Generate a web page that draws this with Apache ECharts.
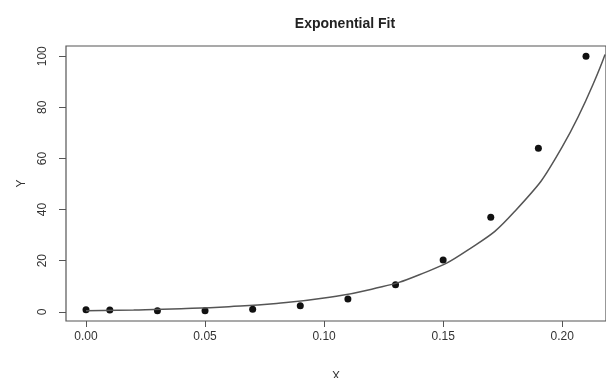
<!DOCTYPE html>
<html>
<head>
<meta charset="utf-8">
<script src="https://cdn.jsdelivr.net/npm/echarts@6/dist/echarts.min.js"></script>
<style>html,body{margin:0;padding:0;background:#fff;}#c{width:606px;height:378px;}</style>
</head>
<body>
<div id="c"></div>
<script>
// Observed data points
const xData = [0, 0.01, 0.03, 0.05, 0.07, 0.09, 0.11, 0.13, 0.15, 0.17, 0.19, 0.21];
const yData = [0.8, 0.7, 0.4, 0.4, 1.0, 2.4, 5.0, 10.6, 20.3, 37, 64, 100];
// Fitted curve
const curveX = [0, 0.02, 0.04, 0.06, 0.08, 0.10, 0.12, 0.14, 0.16, 0.18, 0.20, 0.218];
const curveY = [0.45, 0.74, 1.21, 1.99, 3.27, 5.4, 8.8, 14.5, 23.9, 39.2, 64.5, 100.7];
// Tick values
const xTicks = [0, 0.05, 0.10, 0.15, 0.20];
const yTicks = [0, 20, 40, 60, 80, 100];

const chart = echarts.init(document.getElementById('c'), null, {renderer: 'canvas'});
const txt = '#333';
const font = 'Liberation Sans, Arial, sans-serif';
chart.setOption({
  backgroundColor: '#ffffff',
  animation: false,
  title: {
    text: 'Exponential Fit',
    left: 340, top: 12, textAlign: 'center',
    textStyle: {fontSize: 14, fontWeight: 'bold', color: '#222', fontFamily: font}
  },
  grid: {left: 66, right: 0, top: 46, bottom: 57, outerBoundsMode: 'none', containLabel: false,
    show: true, borderColor: '#555', borderWidth: 1.2, backgroundColor: 'transparent'},
  xAxis: {
    type: 'value', min: -0.0084, max: 0.2184,
    name: 'X', nameLocation: 'middle', nameGap: 50,
    nameTextStyle: {fontSize: 12, color: txt, fontFamily: font},
    axisLine: {show: false, onZero: false},
    splitLine: {show: false},
    axisTick: {show: true, length: 6, customValues: xTicks, lineStyle: {color: '#555'}},
    axisLabel: {customValues: xTicks, margin: 10, fontSize: 12, color: txt, fontFamily: font,
      formatter: v => v.toFixed(2)}
  },
  yAxis: {
    type: 'value', min: -3.6, max: 104,
    name: 'Y', nameLocation: 'middle', nameGap: 38, nameRotate: 90,
    nameTextStyle: {fontSize: 12, color: txt, fontFamily: font},
    axisLine: {show: false, onZero: false},
    splitLine: {show: false},
    axisTick: {show: true, length: 7, customValues: yTicks, lineStyle: {color: '#555'}},
    axisLabel: {customValues: yTicks, rotate: 90, margin: 17, fontSize: 12, color: txt, fontFamily: font}
  },
  series: [
    {
      type: 'line', data: curveX.map((x, i) => [x, curveY[i]]),
      smooth: true, showSymbol: false, clip: true,
      lineStyle: {color: '#555', width: 1.5}
    },
    {
      type: 'scatter', data: xData.map((x, i) => [x, yData[i]]),
      symbol: 'circle', symbolSize: 7,
      itemStyle: {color: '#111', opacity: 1}
    }
  ]
});
</script>
</body>
</html>
